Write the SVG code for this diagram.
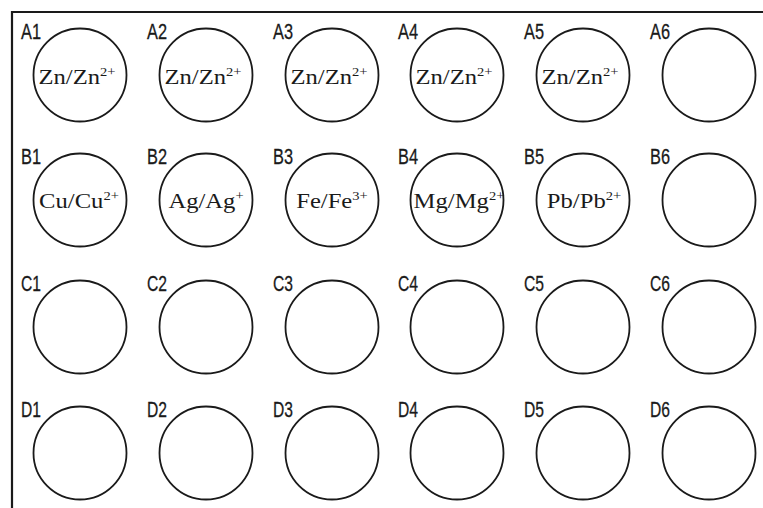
<svg xmlns="http://www.w3.org/2000/svg" width="763" height="508" viewBox="0 0 763 508">
<style>
.well{fill:none;stroke:#1a1a1a;stroke-width:1.8}
.lbl{font-family:"Liberation Sans",Arial,sans-serif;font-size:22px;fill:#1a1a1a;stroke:#1a1a1a;stroke-width:0.3}
.txt{font-family:"Liberation Serif","Times New Roman",serif;font-size:22px;fill:#1a1a1a;text-anchor:middle}
.sup{font-size:13px}
.frame{fill:none;stroke:#1a1a1a;stroke-width:2.2}
</style>
<rect width="763" height="508" fill="#fff"/>
<path class="frame" d="M12,508 V12 H763"/>
<defs>
<circle id="w" r="46.5" class="well"/>
</defs>
<g id="A1"><use href="#w" x="80" y="75"/><text class="lbl" x="21" y="38.5" textLength="20" lengthAdjust="spacingAndGlyphs">A1</text><g transform="translate(77,84) scale(1.12,1)"><text class="txt">Zn/Zn<tspan class="sup" dy="-8">2+</tspan></text></g></g>
<g id="A2"><use href="#w" x="206" y="75"/><text class="lbl" x="147" y="38.5" textLength="20" lengthAdjust="spacingAndGlyphs">A2</text><g transform="translate(203,84) scale(1.12,1)"><text class="txt">Zn/Zn<tspan class="sup" dy="-8">2+</tspan></text></g></g>
<g id="A3"><use href="#w" x="332" y="75"/><text class="lbl" x="273" y="38.5" textLength="20" lengthAdjust="spacingAndGlyphs">A3</text><g transform="translate(329,84) scale(1.12,1)"><text class="txt">Zn/Zn<tspan class="sup" dy="-8">2+</tspan></text></g></g>
<g id="A4"><use href="#w" x="457" y="75"/><text class="lbl" x="398" y="38.5" textLength="20" lengthAdjust="spacingAndGlyphs">A4</text><g transform="translate(454,84) scale(1.12,1)"><text class="txt">Zn/Zn<tspan class="sup" dy="-8">2+</tspan></text></g></g>
<g id="A5"><use href="#w" x="583" y="75"/><text class="lbl" x="524" y="38.5" textLength="20" lengthAdjust="spacingAndGlyphs">A5</text><g transform="translate(580,84) scale(1.12,1)"><text class="txt">Zn/Zn<tspan class="sup" dy="-8">2+</tspan></text></g></g>
<g id="A6"><use href="#w" x="709" y="75"/><text class="lbl" x="650" y="38.5" textLength="20" lengthAdjust="spacingAndGlyphs">A6</text></g>

<g id="B1"><use href="#w" x="80" y="200"/><text class="lbl" x="21" y="163.5" textLength="20" lengthAdjust="spacingAndGlyphs">B1</text><g transform="translate(79,208) scale(1.12,1)"><text class="txt">Cu/Cu<tspan class="sup" dy="-8">2+</tspan></text></g></g>
<g id="B2"><use href="#w" x="206" y="200"/><text class="lbl" x="147" y="163.5" textLength="20" lengthAdjust="spacingAndGlyphs">B2</text><g transform="translate(206,208) scale(1.12,1)"><text class="txt">Ag/Ag<tspan class="sup" dy="-8">+</tspan></text></g></g>
<g id="B3"><use href="#w" x="332" y="200"/><text class="lbl" x="273" y="163.5" textLength="20" lengthAdjust="spacingAndGlyphs">B3</text><g transform="translate(332,208) scale(1.12,1)"><text class="txt">Fe/Fe<tspan class="sup" dy="-8">3+</tspan></text></g></g>
<g id="B4"><use href="#w" x="457" y="200"/><text class="lbl" x="398" y="163.5" textLength="20" lengthAdjust="spacingAndGlyphs">B4</text><g transform="translate(459,208) scale(1.12,1)"><text class="txt">Mg/Mg<tspan class="sup" dy="-8">2+</tspan></text></g></g>
<g id="B5"><use href="#w" x="583" y="200"/><text class="lbl" x="524" y="163.5" textLength="20" lengthAdjust="spacingAndGlyphs">B5</text><g transform="translate(584,208) scale(1.12,1)"><text class="txt">Pb/Pb<tspan class="sup" dy="-8">2+</tspan></text></g></g>
<g id="B6"><use href="#w" x="709" y="200"/><text class="lbl" x="650" y="163.5" textLength="20" lengthAdjust="spacingAndGlyphs">B6</text></g>

<g id="C1"><use href="#w" x="80" y="327"/><text class="lbl" x="21" y="290.5" textLength="20" lengthAdjust="spacingAndGlyphs">C1</text></g>
<g id="C2"><use href="#w" x="206" y="327"/><text class="lbl" x="147" y="290.5" textLength="20" lengthAdjust="spacingAndGlyphs">C2</text></g>
<g id="C3"><use href="#w" x="332" y="327"/><text class="lbl" x="273" y="290.5" textLength="20" lengthAdjust="spacingAndGlyphs">C3</text></g>
<g id="C4"><use href="#w" x="457" y="327"/><text class="lbl" x="398" y="290.5" textLength="20" lengthAdjust="spacingAndGlyphs">C4</text></g>
<g id="C5"><use href="#w" x="583" y="327"/><text class="lbl" x="524" y="290.5" textLength="20" lengthAdjust="spacingAndGlyphs">C5</text></g>
<g id="C6"><use href="#w" x="709" y="327"/><text class="lbl" x="650" y="290.5" textLength="20" lengthAdjust="spacingAndGlyphs">C6</text></g>

<g id="D1"><use href="#w" x="80" y="453"/><text class="lbl" x="21" y="416.5" textLength="20" lengthAdjust="spacingAndGlyphs">D1</text></g>
<g id="D2"><use href="#w" x="206" y="453"/><text class="lbl" x="147" y="416.5" textLength="20" lengthAdjust="spacingAndGlyphs">D2</text></g>
<g id="D3"><use href="#w" x="332" y="453"/><text class="lbl" x="273" y="416.5" textLength="20" lengthAdjust="spacingAndGlyphs">D3</text></g>
<g id="D4"><use href="#w" x="457" y="453"/><text class="lbl" x="398" y="416.5" textLength="20" lengthAdjust="spacingAndGlyphs">D4</text></g>
<g id="D5"><use href="#w" x="583" y="453"/><text class="lbl" x="524" y="416.5" textLength="20" lengthAdjust="spacingAndGlyphs">D5</text></g>
<g id="D6"><use href="#w" x="709" y="453"/><text class="lbl" x="650" y="416.5" textLength="20" lengthAdjust="spacingAndGlyphs">D6</text></g>
<g id="connectors"/>
</svg>
